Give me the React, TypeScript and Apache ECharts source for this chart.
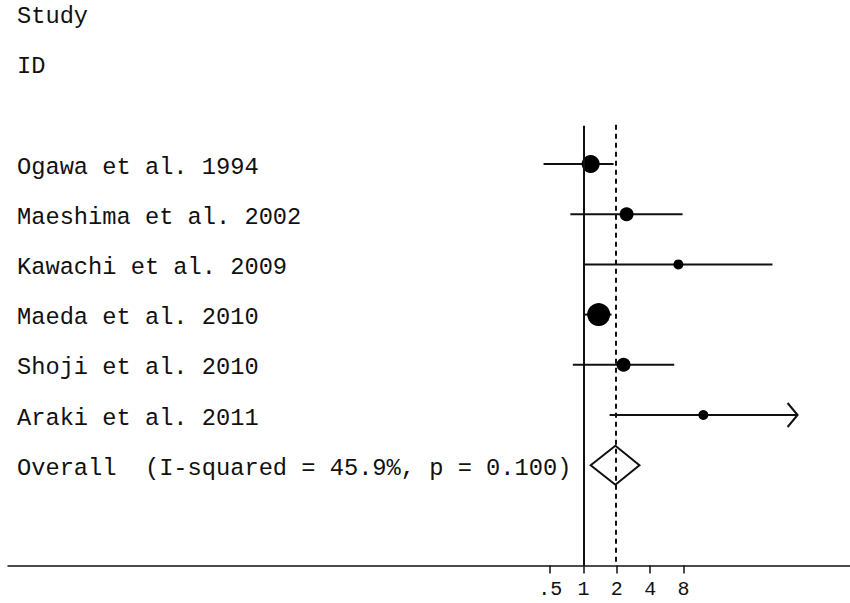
import React, { useEffect, useRef } from "react";
import * as echarts from "echarts";

// ---- data (odds ratios) ----
const headerLabels = ["Study", "ID"];
const studies = [
  "Ogawa et al. 1994",
  "Maeshima et al. 2002",
  "Kawachi et al. 2009",
  "Maeda et al. 2010",
  "Shoji et al. 2010",
  "Araki et al. 2011",
];
const oddsRatio = [1.16, 2.45, 7.2, 1.37, 2.3, 12.1];
const ciLower = [0.435, 0.76, 1.0, 1.0, 0.8, 1.72];
const ciUpper = [1.87, 7.85, 51, 1.79, 6.6, 86];
const truncated = [false, false, false, false, false, true];
const weights = [22.4, 13.6, 6.9, 36.6, 13.6, 6.9];
const overallLabel = "Overall\u00a0\u00a0(I-squared = 45.9%, p = 0.100)";
const overallEstimate = [1.94];
const overallLower = [1.16];
const overallUpper = [3.2];
const tickValues = [0.5, 1, 2, 4, 8];

const FONT = "'Liberation Mono', 'Courier New', monospace";
const INK = "#111";
const X_MIN = -17.28;
const X_MAX = 8;
const Y_MIN = -3;
const Y_MAX = 8;

export default function App() {
  const ref = useRef<HTMLDivElement>(null);
  useEffect(() => {
    if (!ref.current) return;
    const chart = echarts.init(ref.current, null, { renderer: "svg" });
    const lg = (v: number) => Math.log2(v);
    const overallRow = studies.length;

    const ciData = studies.map((_, i) => [i, lg(ciLower[i]), lg(ciUpper[i]), truncated[i] ? 1 : 0]);
    const pointData = studies.map((_, i) => ({
      value: [lg(oddsRatio[i]), i],
      symbolSize: 3.8 * Math.sqrt(weights[i]),
    }));
    const labelData = [
      ...headerLabels.map((t, k) => ({ value: [X_MIN, -3 + k], name: t })),
      ...studies.map((t, i) => ({ value: [X_MIN, i], name: t })),
      { value: [X_MIN, overallRow], name: overallLabel },
    ];
    const diamondData = [[overallRow, lg(overallLower[0]), lg(overallEstimate[0]), lg(overallUpper[0])]];

    const option: any = {
      animation: false,
      grid: { left: 8, right: 0, top: 13.4, bottom: 37.4 },
      xAxis: {
        type: "value",
        min: X_MIN,
        max: X_MAX,
        position: "bottom",
        splitLine: { show: false },
        axisLine: { show: true, onZero: false, lineStyle: { color: INK, width: 1.5 } },
        axisTick: {
          show: true,
          customValues: tickValues.map(lg),
          length: 8,
          lineStyle: { color: INK, width: 1.5 },
        },
        axisLabel: {
          customValues: tickValues.map(lg),
          formatter: (v: number) => {
            const s = String(Math.round(Math.pow(2, v) * 1000) / 1000);
            return s.startsWith("0.") ? s.slice(1) : s;
          },
          fontFamily: FONT,
          fontSize: 20,
          color: INK,
          margin: 14,
        },
      },
      yAxis: { type: "value", min: Y_MIN, max: Y_MAX, inverse: true, show: false },
      series: [
        {
          type: "custom",
          data: ciData,
          encode: { x: [1, 2], y: 0 },
          renderItem: (params: any, api: any) => {
            const row = api.value(0);
            const p1 = api.coord([api.value(1), row]);
            const p2 = api.coord([api.value(2), row]);
            const children: any[] = [
              {
                type: "line",
                shape: { x1: p1[0], y1: p1[1], x2: p2[0], y2: p2[1] },
                style: { stroke: INK, lineWidth: 2 },
              },
            ];
            if (api.value(3)) {
              children.push({
                type: "polyline",
                shape: { points: [[p2[0] - 10, p2[1] - 12], [p2[0], p2[1]], [p2[0] - 10, p2[1] + 12]] },
                style: { stroke: INK, lineWidth: 2, fill: "none" },
              });
            }
            return { type: "group", children };
          },
          silent: true,
          z: 2,
        },
        {
          type: "scatter",
          data: pointData,
          symbol: "circle",
          itemStyle: { color: "#000", opacity: 1 },
          silent: true,
          z: 3,
          markLine: {
            silent: true,
            symbol: "none",
            label: { show: false },
            data: [
              [
                { coord: [0, -0.76], lineStyle: { color: INK, width: 2, type: "solid", opacity: 1 } },
                { coord: [0, Y_MAX] },
              ],
              [
                { coord: [lg(overallEstimate[0]), -0.78], lineStyle: { color: INK, width: 2, type: [5, 4], opacity: 1 } },
                { coord: [lg(overallEstimate[0]), Y_MAX] },
              ],
            ],
          },
        },
        {
          type: "custom",
          data: diamondData,
          encode: { x: [1, 2, 3], y: 0 },
          renderItem: (params: any, api: any) => {
            const row = api.value(0);
            const l = api.coord([api.value(1), row]);
            const c = api.coord([api.value(2), row]);
            const r = api.coord([api.value(3), row]);
            const h = 19.5;
            return {
              type: "polygon",
              shape: { points: [[l[0], l[1]], [c[0], c[1] - h], [r[0], r[1]], [c[0], c[1] + h]] },
              style: { stroke: INK, lineWidth: 2, fill: "none" },
            };
          },
          silent: true,
          z: 4,
        },
        {
          type: "scatter",
          data: labelData,
          symbolSize: 0,
          silent: true,
          itemStyle: { opacity: 1 },
          label: {
            show: true,
            position: "right",
            distance: 9,
            offset: [0, 3],
            formatter: (p: any) => p.name,
            fontFamily: FONT,
            fontSize: 23.7,
            color: INK,
          },
        },
      ],
    };
    chart.setOption(option);
    return () => chart.dispose();
  }, []);
  return (
    <div
      ref={ref}
      style={{ position: "fixed", left: 0, top: 0, width: 850, height: 603, background: "#fff" }}
    />
  );
}
